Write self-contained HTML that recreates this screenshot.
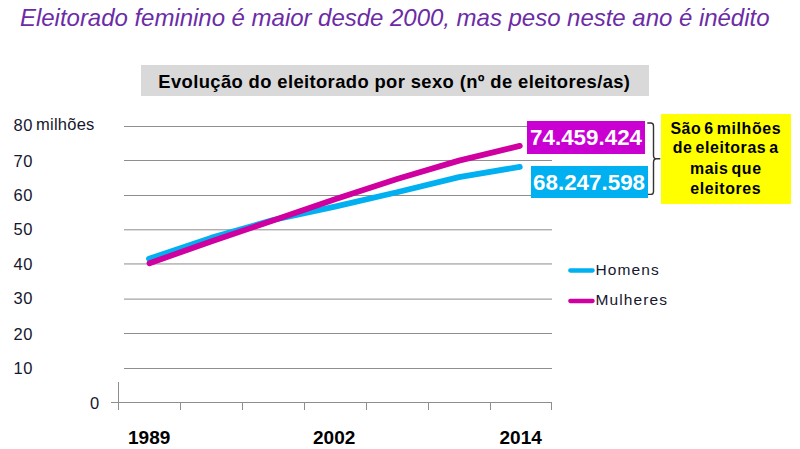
<!DOCTYPE html>
<html><head><meta charset="utf-8">
<style>
html,body{margin:0;padding:0;background:#fff;}
body{width:800px;height:449px;position:relative;overflow:hidden;font-family:"Liberation Sans",sans-serif;}
.a{position:absolute;white-space:nowrap;line-height:1;}
#title{left:20px;top:6px;font-size:24px;letter-spacing:-0.025px;font-style:italic;color:#6C2CA6;}
#ctitle{left:140.5px;top:65px;width:508px;height:30.5px;background:#D9D9D9;}
#ctitle span{position:absolute;left:17.8px;top:8px;font-size:18.4px;letter-spacing:0.38px;font-weight:bold;color:#000;}
.yl{font-size:16.5px;color:#16162e;letter-spacing:0.6px;}
.yr{text-align:right;width:40px;}
.xl{font-size:19px;font-weight:bold;color:#000;}
.nb{font-size:22.4px;font-weight:bold;color:#fff;}
#ybox{left:660.5px;top:113.5px;width:130.5px;height:90px;background:#FFFF00;}
#ybox div{position:absolute;left:0;width:130.5px;text-align:center;font-size:15.9px;letter-spacing:0.6px;word-spacing:-2px;font-weight:bold;color:#000;}
.lg{font-size:15.5px;color:#16162e;letter-spacing:1.1px;}
</style></head><body>
<div class="a" id="title">Eleitorado feminino é maior desde 2000, mas peso neste ano é inédito</div>
<div class="a" id="ctitle"><span>Evolução do eleitorado por sexo (nº de eleitores/as)</span></div>

<svg class="a" style="left:0;top:0" width="800" height="449" viewBox="0 0 800 449">
  <g stroke="#8e8e8e" stroke-width="1" fill="none" shape-rendering="crispEdges">
    <line x1="124" y1="126.5" x2="552" y2="126.5"/>
    <line x1="124" y1="160.5" x2="552" y2="160.5"/>
    <line x1="124" y1="195.5" x2="552" y2="195.5"/>
    <line x1="124" y1="333.5" x2="552" y2="333.5"/>
    <line x1="124" y1="368.5" x2="552" y2="368.5"/>
    <line x1="111" y1="402.5" x2="552" y2="402.5"/>
    <line x1="118.5" y1="381.5" x2="118.5" y2="410"/>
    <line x1="180.5" y1="402" x2="180.5" y2="410"/>
    <line x1="242.5" y1="402" x2="242.5" y2="410"/>
    <line x1="304.5" y1="402" x2="304.5" y2="410"/>
    <line x1="366.5" y1="402" x2="366.5" y2="410"/>
    <line x1="428.5" y1="402" x2="428.5" y2="410"/>
    <line x1="490.5" y1="402" x2="490.5" y2="410"/>
    <line x1="551.5" y1="402" x2="551.5" y2="410"/>
  </g>
  <g stroke="#8e8e8e" stroke-width="1" fill="none">
    <line x1="124" y1="229.81" x2="552" y2="229.81"/>
    <line x1="124" y1="263.94" x2="552" y2="263.94"/>
    <line x1="124" y1="299.1" x2="552" y2="299.1"/>
  </g>
  <g fill="none" stroke-width="5.8" stroke-linecap="round" stroke-linejoin="round">
    <polyline stroke="#00B0F0" points="149,258.8 211,237.9 273,220 335,206.6 397,192.2 459,177.1 519.8,166.9"/>
    <polyline stroke="#CF009F" points="149.5,263.3 211,241.4 273,220.5 335,199.3 397,179 459,160.6 519.8,145.9"/>
  </g>
  <g stroke-width="4.3" stroke-linecap="round">
    <line x1="570.3" y1="270.5" x2="592.6" y2="270.5" stroke="#00B0F0"/>
    <line x1="570.3" y1="301" x2="592.6" y2="301" stroke="#CF009F"/>
  </g>
  <path d="M647.3,123 H650.8 Q653.5,123 653.5,126 V155.2 Q653.5,158.8 656.5,158.8 H660.3 M656.5,158.8 Q653.5,158.8 653.5,162.4 V191.4 Q653.5,194.4 650.8,194.4 H647.3" fill="none" stroke="#333" stroke-width="1.4"/>
</svg>

<div class="a yl yr" style="left:-7px;top:117.3px">80</div>
<div class="a yl" style="left:36px;top:115.7px;letter-spacing:0.25px">milhões</div>
<div class="a yl yr" style="left:-7px;top:152.9px">70</div>
<div class="a yl yr" style="left:-7px;top:186.9px">60</div>
<div class="a yl yr" style="left:-7px;top:221.2px">50</div>
<div class="a yl yr" style="left:-7px;top:255.9px">40</div>
<div class="a yl yr" style="left:-7px;top:290.4px">30</div>
<div class="a yl yr" style="left:-7px;top:325.6px">20</div>
<div class="a yl yr" style="left:-7px;top:359.9px">10</div>
<div class="a yl yr" style="left:59.8px;top:395.2px">0</div>

<div class="a xl" style="left:128px;top:427.5px">1989</div>
<div class="a xl" style="left:313px;top:427.5px">2002</div>
<div class="a xl" style="left:499.5px;top:427.5px">2014</div>

<div class="a" style="left:527.3px;top:120.8px;width:117.8px;height:32.9px;background:#CA00D2;"></div>
<div class="a nb" style="left:530px;top:126.5px">74.459.424</div>
<div class="a" style="left:531px;top:166.4px;width:116.6px;height:32px;background:#00B0F0;"></div>
<div class="a nb" style="left:533px;top:172.1px">68.247.598</div>

<div class="a" id="ybox">
  <div style="top:7px">São 6 milhões</div>
  <div style="top:26.5px">de eleitoras a</div>
  <div style="top:47.8px">mais que</div>
  <div style="top:67px">eleitores</div>
</div>

<div class="a lg" style="left:595.5px;top:262px">Homens</div>
<div class="a lg" style="left:595.5px;top:292.2px">Mulheres</div>
</body></html>
